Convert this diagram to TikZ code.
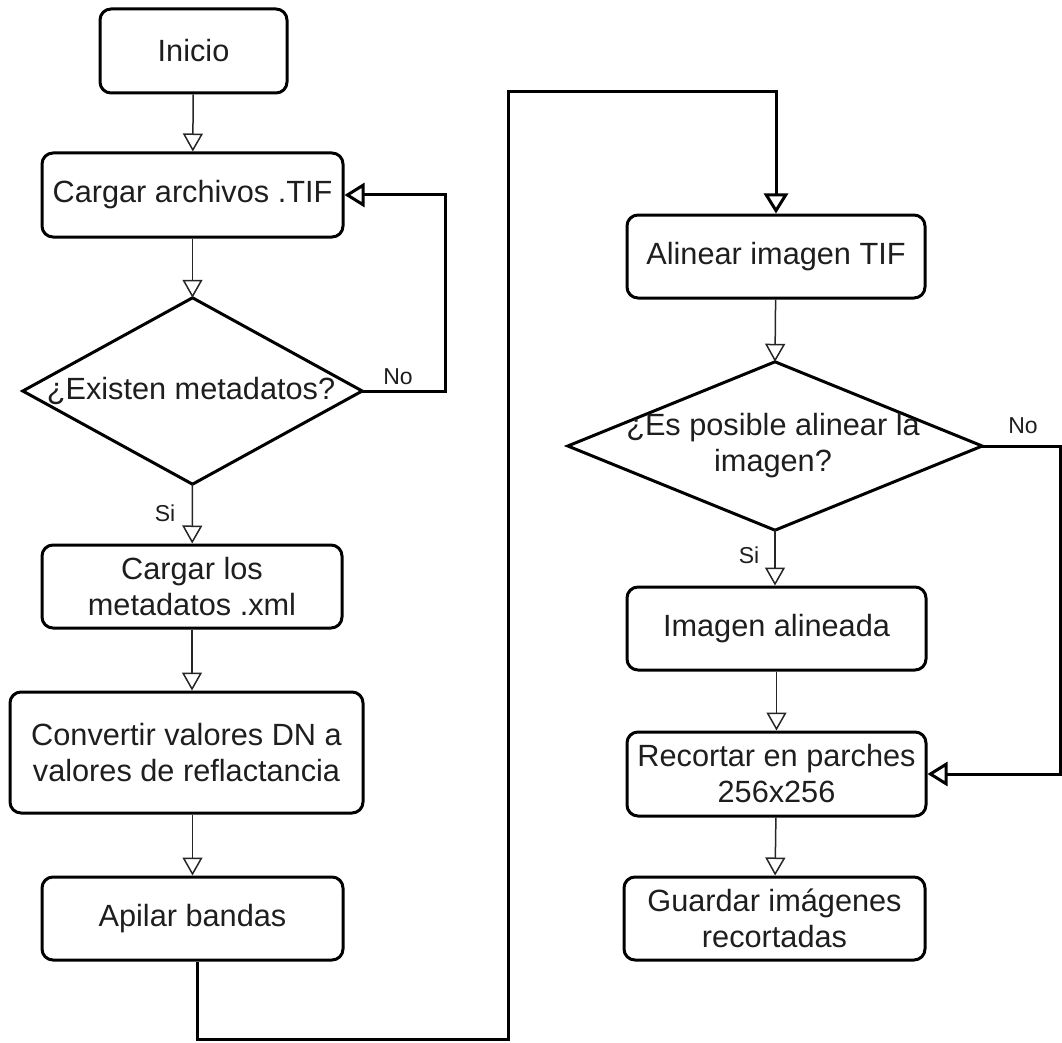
\documentclass[tikz,border=0pt]{standalone}
\usepackage{fontspec}
\setmainfont{Liberation Sans}
\usetikzlibrary{arrows.meta}
\definecolor{ink}{HTML}{1E1E1E}
\begin{document}
\begin{tikzpicture}[x=1pt,y=-1pt,
  box/.style={draw=black, line width=3pt, rounded corners=11pt, align=center,
    font=\fontsize{30.7}{36}\selectfont, text=ink, inner sep=0pt},
  decision/.style={draw=none, inner sep=0pt, align=center,
    font=\fontsize{30.7}{36}\selectfont, text=ink},
  lbl/.style={font=\fontsize{23}{26}\selectfont, text=ink, inner sep=0pt},
  thinarrow/.style={draw=black!85, line width=1.5pt,
    -{Triangle[open,length=18pt,width=20pt]}},
  thickarrow/.style={draw=black, line width=3pt,
    -{Triangle[open,length=20pt,width=24pt]}}
]
\useasboundingbox (0,0) rectangle (1062,1043);

% left column
\node[box, minimum width=187pt, minimum height=84pt] (inicio) at (193.5,51) {Inicio};
\node[box, minimum width=301pt, minimum height=84pt] (cargar) at (192.5,195) {Cargar archivos .TIF};
\node[decision, minimum width=339pt, minimum height=186pt] (d1) at (192.5,391) {};
\draw[line width=3pt, line join=miter] (d1.north) -- (d1.east) -- (d1.south) -- (d1.west) -- cycle;
\node[decision] (d1t) at (191,391) {¿Existen metadatos?};
\node[box, minimum width=300pt, minimum height=83pt] (cargarlos) at (192,586.5) {Cargar los\\metadatos .xml};
\node[box, minimum width=353pt, minimum height=121pt] (convertir) at (186.5,752.5) {Convertir valores DN a\\valores de reflactancia};
\node[box, minimum width=301pt, minimum height=83pt] (apilar) at (192.5,918.5) {Apilar bandas};

% right column
\node[box, minimum width=298pt, minimum height=83pt] (alinear) at (776,256.5) {Alinear imagen TIF};
\node[decision, minimum width=414pt, minimum height=168pt] (d2) at (775,446) {};
\draw[line width=3pt, line join=miter] (d2.north) -- (d2.east) -- (d2.south) -- (d2.west) -- cycle;
\node[decision] (d2t) at (773,446) {¿Es posible alinear la\\imagen?};
\node[box, minimum width=299pt, minimum height=83pt] (imagen) at (776.5,628.5) {Imagen alineada};
\node[box, minimum width=299pt, minimum height=84pt] (recortar) at (776.5,774) {Recortar en parches\\256x256};
\node[box, minimum width=301pt, minimum height=83pt] (guardar) at (774.5,918.5) {Guardar imágenes\\recortadas};

% labels
\node[lbl] (no1) at (398,377) {No};
\node[lbl] (si1) at (165,513) {Si};
\node[lbl] (no2) at (1023,426) {No};
\node[lbl] (si2) at (749,555) {Si};

% helper coordinates
\coordinate (c1) at (445,195);
\coordinate (m1) at (197,1039);
\coordinate (m2) at (508,92);
\coordinate (r1) at (1060,446);

% thin connectors
\draw[thinarrow] (inicio) -- (cargar);
\draw[thinarrow] (cargar) -- (d1.north);
\draw[thinarrow] (d1.south) -- (cargarlos);
\draw[thinarrow] (cargarlos) -- (convertir.north -| cargarlos);
\draw[thinarrow] (convertir.south -| apilar) -- (apilar);
\draw[thinarrow] (alinear) -- (d2.north);
\draw[thinarrow] (d2.south) -- (imagen.north -| d2.south);
\draw[thinarrow] (imagen) -- (recortar);
\draw[thinarrow] (recortar) -- (guardar);

% thick connectors
\draw[thickarrow, line join=miter] (d1.east) -| (c1) -- (cargar.east);
\draw[thickarrow, line join=miter] (apilar.south -| m1) -- (m1) -| (m2) -| (alinear.north);
\draw[thickarrow, line join=miter] (d2.east) -- (r1) |- (recortar.east);
\end{tikzpicture}
\end{document}
